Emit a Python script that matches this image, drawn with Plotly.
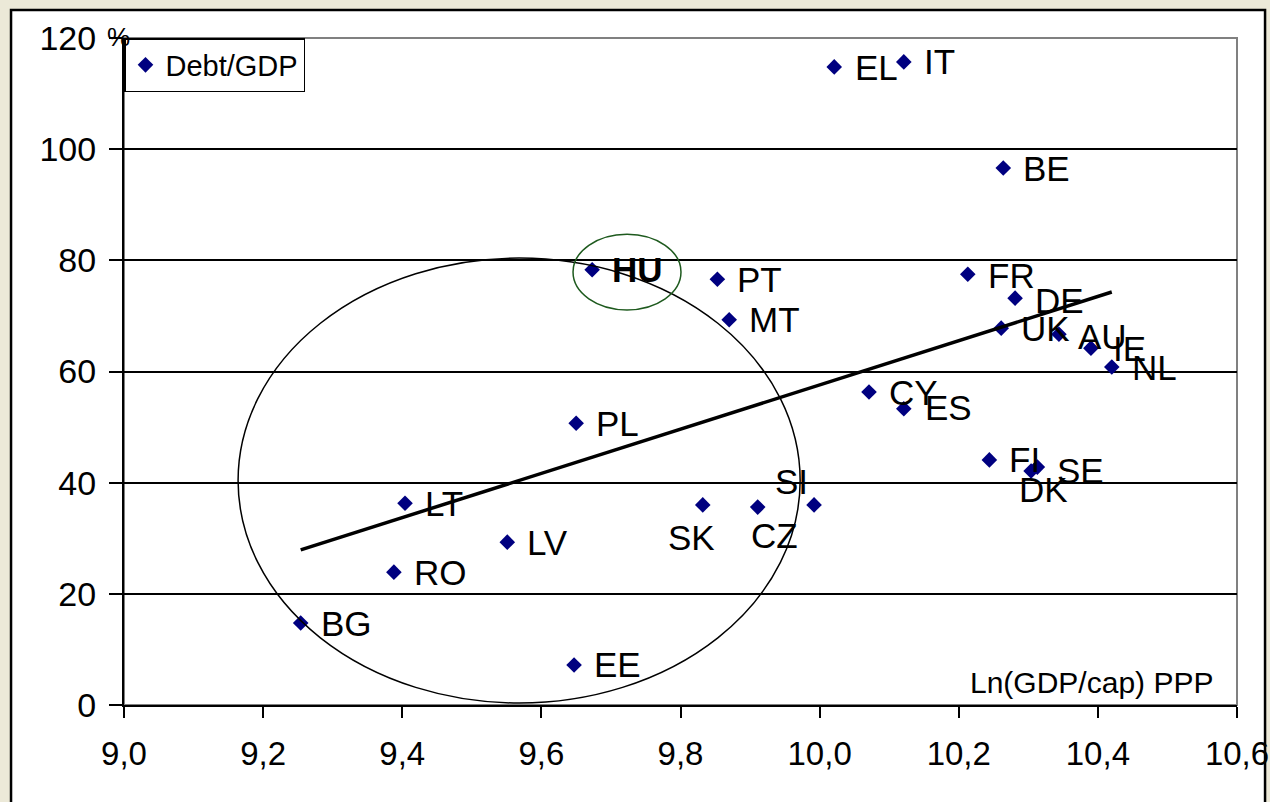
import plotly.graph_objects as go

# Countries: log GDP per capita (PPP) vs. government debt in % of GDP
countries = ["BG", "RO", "LT", "LV", "EE", "PL", "HU", "SK", "CZ", "SI",
             "PT", "MT", "EL", "IT", "BE", "CY", "ES", "FR", "DE", "UK",
             "AU", "IE", "NL", "FI", "SE", "DK"]
ln_gdp_cap = [9.254, 9.388, 9.404, 9.551, 9.647, 9.650, 9.673, 9.832, 9.911, 9.992,
              9.853, 9.870, 10.021, 10.121, 10.264, 10.071, 10.121, 10.213, 10.281, 10.261,
              10.344, 10.390, 10.420, 10.244, 10.313, 10.304]
debt_gdp = [14.75, 23.9, 36.3, 29.3, 7.2, 50.7, 78.3, 36.0, 35.6, 36.0,
            76.6, 69.3, 114.8, 115.7, 96.6, 56.3, 53.3, 77.5, 73.2, 67.8,
            66.7, 64.2, 60.8, 44.1, 42.8, 42.1]

# Linear trend end points
trend_x = [9.254, 10.420]
trend_y = [27.9, 74.3]

x_ticks = [9.0, 9.2, 9.4, 9.6, 9.8, 10.0, 10.2, 10.4, 10.6]
y_ticks = [0, 20, 40, 60, 80, 100, 120]

# label placement (pixel offsets from the marker: right, down)
label_offset = {"SK": (-35, 33), "CZ": (-7, 28), "SI": (-39, -23),
                "DK": (-12, 19), "SE": (20, 3), "DE": (20, 2), "AU": (19, 2),
                "IE": (22, 0), "EL": (21, 1), "FR": (20, 1), "ES": (21, -1)}

FONT = "Liberation Sans, Arial, sans-serif"

fig = go.Figure()

fig.add_trace(go.Scatter(
    x=ln_gdp_cap, y=debt_gdp, mode="markers", name="Debt/GDP",
    marker=dict(symbol="diamond", size=12, color="#000080",
                line=dict(width=0)),
    showlegend=True,
))

fig.add_trace(go.Scatter(
    x=trend_x, y=trend_y, mode="lines",
    line=dict(color="black", width=3.5), showlegend=False, hoverinfo="skip",
))

annotations = []
for c, xv, yv in zip(countries, ln_gdp_cap, debt_gdp):
    dx, dy = label_offset.get(c, (20, 0))
    annotations.append(dict(
        x=xv, y=yv, xref="x", yref="y", text=f"<b>{c}</b>" if c == "HU" else c,
        showarrow=False, xanchor="left", yanchor="middle",
        xshift=dx - 2, yshift=-dy,
        font=dict(family=FONT, size=35, color="black"),
    ))

annotations.append(dict(
    x=1.0, y=0.0, xref="paper", yref="paper", text="Ln(GDP/cap) PPP",
    showarrow=False, xanchor="right", yanchor="bottom", xshift=-22, yshift=4,
    font=dict(family=FONT, size=30, color="black"),
))
annotations.append(dict(
    x=0.0, y=1.0, xref="paper", yref="paper", text="%",
    showarrow=False, xanchor="center", yanchor="bottom", xshift=-6, yshift=-16,
    font=dict(family=FONT, size=26, color="black"),
))

shapes = [
    # white panel with black frame
    dict(type="rect", xref="paper", yref="paper",
         x0=-0.1015, x1=1.0252, y0=-0.16, y1=1.042,
         fillcolor="white", line=dict(color="black", width=2.5), layer="below"),
    # plot area frame
    dict(type="rect", xref="paper", yref="paper", x0=0, x1=1, y0=0, y1=1,
         line=dict(color="#808080", width=2), layer="below"),
    # group outline
    dict(type="circle", xref="x", yref="y", x0=9.164, x1=9.972, y0=0.36, y1=80.4,
         line=dict(color="black", width=1.5), layer="above"),
    # highlight around HU
    dict(type="circle", xref="x", yref="y", x0=9.6455, x1=9.8007, y0=71.07, y1=84.7,
         line=dict(color="#1E5A1E", width=1.5), layer="above"),
]

fig.update_layout(
    width=1270, height=802,
    margin=dict(l=124, r=33, t=38, b=97, autoexpand=False),
    paper_bgcolor="#ECE9D8", plot_bgcolor="white",
    separators=", ",
    font=dict(family=FONT, color="black"),
    showlegend=True,
    legend=dict(x=0, y=1, xanchor="left", yanchor="top",
                bgcolor="white", bordercolor="black", borderwidth=1.5,
                font=dict(family=FONT, size=29, color="black"),
                itemwidth=30, tracegroupgap=0),
    xaxis=dict(range=[9.0, 10.6], tickvals=x_ticks, tickformat=".1f",
               showgrid=False, zeroline=False, automargin=False,
               ticklabeloverflow="allow", ticklabelstandoff=7,
               showline=True, linecolor="black", linewidth=2,
               ticks="outside", ticklen=11, tickwidth=2, tickcolor="black",
               tickfont=dict(family=FONT, size=33, color="black")),
    yaxis=dict(range=[0, 120], tickvals=y_ticks, automargin=False,
               ticklabeloverflow="allow",
               showgrid=True, gridcolor="black", gridwidth=1.5,
               zeroline=False, ticklabelstandoff=6,
               showline=True, linecolor="black", linewidth=2,
               ticks="outside", ticklen=13, tickwidth=2, tickcolor="black",
               tickfont=dict(family=FONT, size=34, color="black")),
    annotations=annotations,
    shapes=shapes,
)

fig.write_html("out.html")
